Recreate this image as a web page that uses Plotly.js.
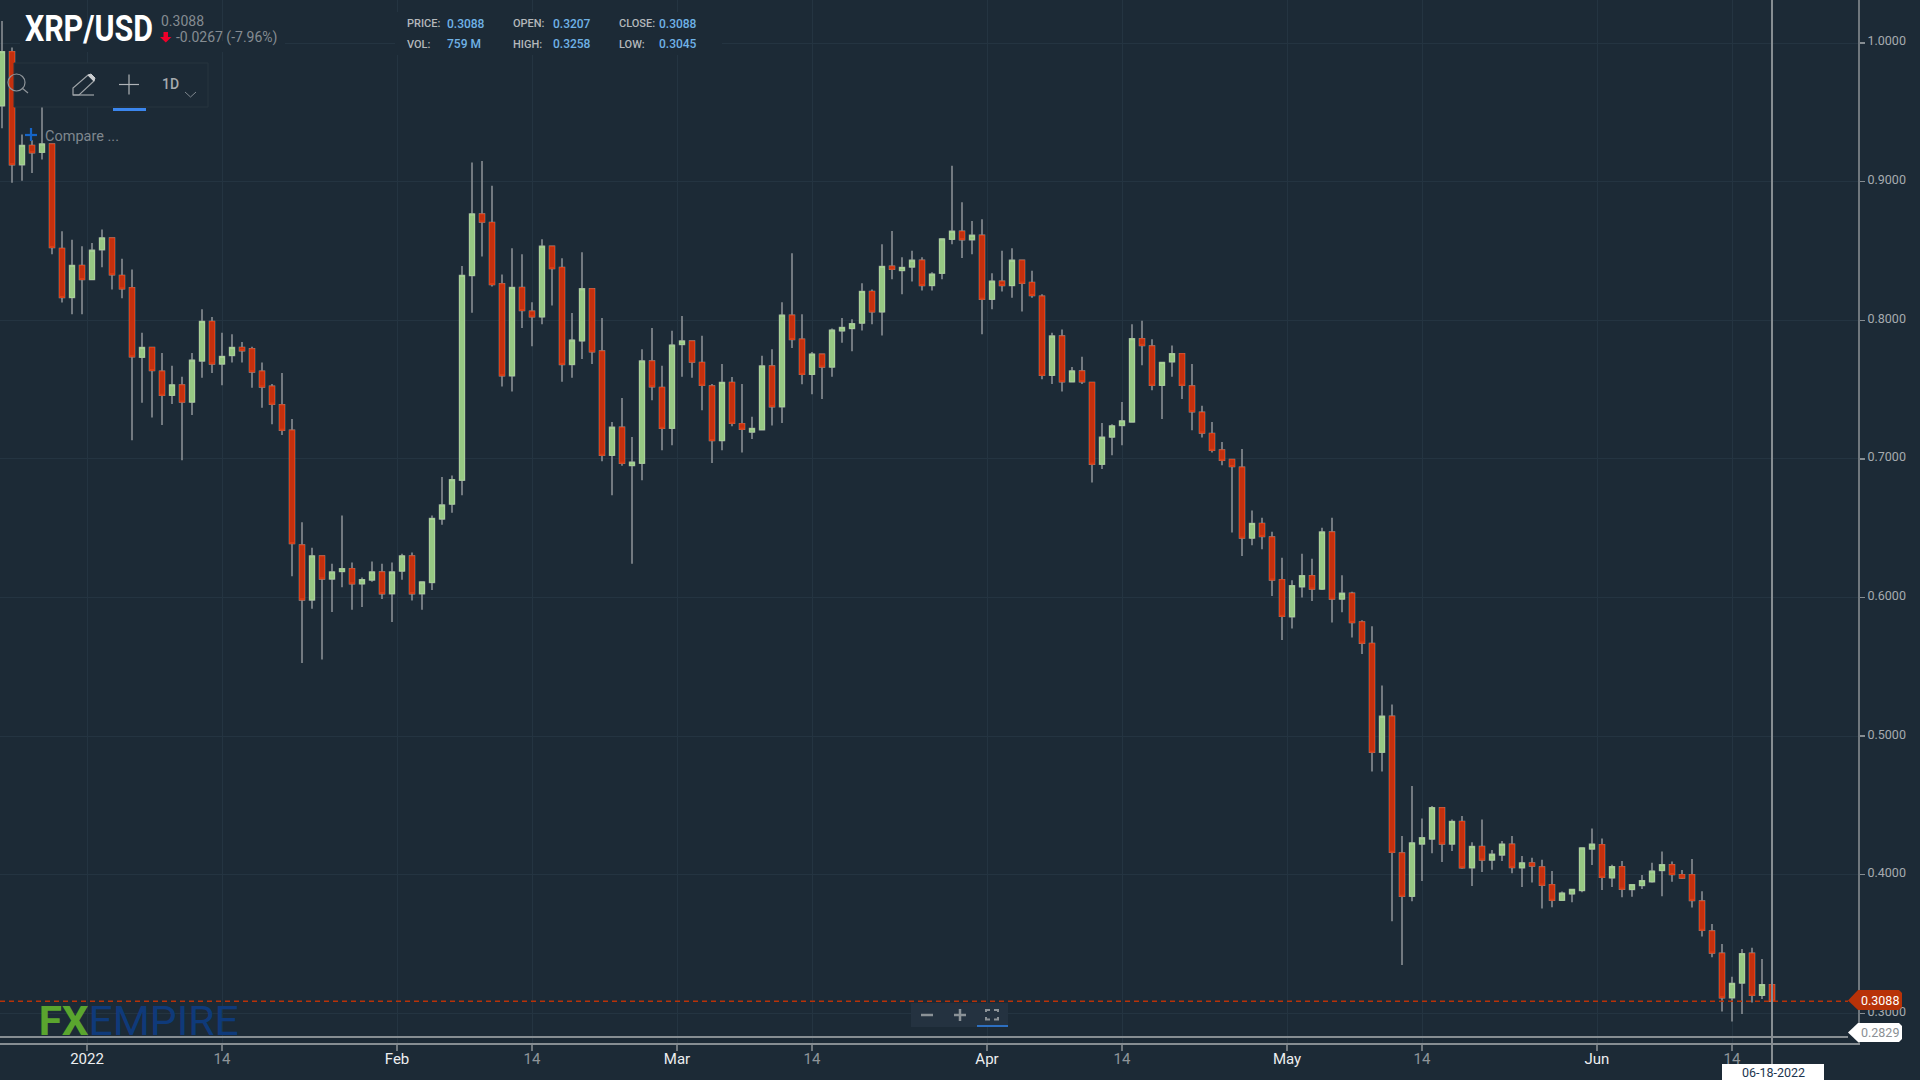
<!DOCTYPE html>
<html>
<head>
<meta charset="utf-8">
<script src="https://cdn.plot.ly/plotly-3.0.1.min.js"></script>
<style>html,body{margin:0;padding:0;background:#1c2a36;overflow:hidden}#chart{width:1920px;height:1080px}</style>
</head>
<body>
<div id="chart"></div>
<script>
const symbol = "XRP/USD";
const lastDate = "06-18-2022";
const priceTicks = [1.0,0.9,0.8,0.7,0.6,0.5,0.4,0.3];
const dateTicks = ["2021-12-31 12:00","2022-01-14","2022-01-31 12:00","2022-02-14","2022-02-28 12:00","2022-03-14","2022-03-31 12:00","2022-04-14","2022-04-30 12:00","2022-05-14","2022-05-31 12:00","2022-06-14"];
const dateLabels = ["2022","14","Feb","14","Mar","14","Apr","14","May","14","Jun","14"];

const dates = [
"2021-12-23","2021-12-24","2021-12-25","2021-12-26","2021-12-27","2021-12-28","2021-12-29","2021-12-30","2021-12-31",
"2022-01-01","2022-01-02","2022-01-03","2022-01-04","2022-01-05","2022-01-06","2022-01-07","2022-01-08","2022-01-09","2022-01-10","2022-01-11","2022-01-12","2022-01-13","2022-01-14","2022-01-15","2022-01-16","2022-01-17","2022-01-18","2022-01-19","2022-01-20","2022-01-21","2022-01-22","2022-01-23","2022-01-24","2022-01-25","2022-01-26","2022-01-27","2022-01-28","2022-01-29","2022-01-30","2022-01-31",
"2022-02-01","2022-02-02","2022-02-03","2022-02-04","2022-02-05","2022-02-06","2022-02-07","2022-02-08","2022-02-09","2022-02-10","2022-02-11","2022-02-12","2022-02-13","2022-02-14","2022-02-15","2022-02-16","2022-02-17","2022-02-18","2022-02-19","2022-02-20","2022-02-21","2022-02-22","2022-02-23","2022-02-24","2022-02-25","2022-02-26","2022-02-27","2022-02-28",
"2022-03-01","2022-03-02","2022-03-03","2022-03-04","2022-03-05","2022-03-06","2022-03-07","2022-03-08","2022-03-09","2022-03-10","2022-03-11","2022-03-12","2022-03-13","2022-03-14","2022-03-15","2022-03-16","2022-03-17","2022-03-18","2022-03-19","2022-03-20","2022-03-21","2022-03-22","2022-03-23","2022-03-24","2022-03-25","2022-03-26","2022-03-27","2022-03-28","2022-03-29","2022-03-30","2022-03-31",
"2022-04-01","2022-04-02","2022-04-03","2022-04-04","2022-04-05","2022-04-06","2022-04-07","2022-04-08","2022-04-09","2022-04-10","2022-04-11","2022-04-12","2022-04-13","2022-04-14","2022-04-15","2022-04-16","2022-04-17","2022-04-18","2022-04-19","2022-04-20","2022-04-21","2022-04-22","2022-04-23","2022-04-24","2022-04-25","2022-04-26","2022-04-27","2022-04-28","2022-04-29","2022-04-30",
"2022-05-01","2022-05-02","2022-05-03","2022-05-04","2022-05-05","2022-05-06","2022-05-07","2022-05-08","2022-05-09","2022-05-10","2022-05-11","2022-05-12","2022-05-13","2022-05-14","2022-05-15","2022-05-16","2022-05-17","2022-05-18","2022-05-19","2022-05-20","2022-05-21","2022-05-22","2022-05-23","2022-05-24","2022-05-25","2022-05-26","2022-05-27","2022-05-28","2022-05-29","2022-05-30","2022-05-31",
"2022-06-01","2022-06-02","2022-06-03","2022-06-04","2022-06-05","2022-06-06","2022-06-07","2022-06-08","2022-06-09","2022-06-10","2022-06-11","2022-06-12","2022-06-13","2022-06-14","2022-06-15","2022-06-16","2022-06-17","2022-06-18"];

const opens = [
.9548,.9938,.9123,.9262,.9212,.9272,.8519,.8165,.8396,.8294,
.8510,.8594,.8324,.8235,.7734,.7804,.7633,.7459,.7534,.7410,
.7707,.7992,.7685,.7747,.7804,.7794,.7633,.7524,.7390,.7207,
.6379,.5983,.6300,.6134,.6188,.6208,.6099,.6127,.6184,.6028,
.6191,.6300,.6028,.6109,.6567,.6674,.6847,.8323,.8767,.8705,
.8263,.7600,.8236,.8066,.8025,.8534,.8381,.7682,.7852,.8227,
.7778,.7026,.7228,.6952,.6969,.7706,.7516,.7221,.7826,.7850,
.7696,.7526,.7132,.7552,.7254,.7194,.7211,.7670,.7377,.8037,
.7864,.7610,.7756,.7663,.7924,.7941,.7980,.8208,.8061,.8390,
.8359,.8385,.8433,.8251,.8340,.8585,.8642,.8582,.8613,.8152,
.8282,.8251,.8433,.8273,.8174,.7603,.7886,.7557,.7634,.7552,
.6962,.7158,.7242,.7267,.7867,.7814,.7531,.7701,.7759,.7526,
.7336,.7183,.7065,.6995,.6940,.6429,.6534,.6436,.6129,.5862,
.6078,.6157,.6061,.6472,.5989,.6030,.5824,.5669,.4884,.5143,
.4157,.3845,.4222,.4258,.4483,.4222,.4384,.4051,.4203,.4106,
.4143,.4220,.4051,.4085,.4056,.3928,.3816,.3862,.3886,.4186,
.4217,.3978,.4058,.3894,.3923,.3950,.4031,.4072,.4000,.4000,
.3810,.3594,.3433,.3113,.3219,.3433,.3130,.3207];

const highs = [
1.016,.9969,.9341,.930,.9558,.9272,.8643,.8581,.8534,.8557,
.8656,.8594,.8445,.8366,.7910,.7804,.7764,.7672,.7593,.7764,
.8079,.8024,.7910,.7900,.7843,.7809,.7695,.7541,.7620,.7288,
.6543,.6359,.6300,.6243,.6592,.6253,.6144,.6260,.6243,.6253,
.6315,.6325,.6117,.6592,.6870,.6880,.8391,.9139,.9149,.8971,
.8330,.8520,.8477,.8131,.8585,.8534,.8448,.8052,.8491,.8232,
.8016,.7266,.7439,.7158,.7792,.7944,.7672,.7924,.8032,.7855,
.7888,.7540,.7684,.7591,.7540,.7305,.7744,.7792,.8131,.8484,
.8044,.7771,.7761,.7941,.8016,.8008,.8268,.8222,.8549,.8645,
.8455,.8501,.8455,.8347,.8587,.9115,.8851,.8717,.8729,.8340,
.8501,.8520,.8433,.8357,.8188,.7910,.7934,.7663,.7737,.7557,
.7259,.7250,.7411,.7972,.7996,.7864,.7696,.7819,.7759,.7684,
.7384,.7267,.7122,.6995,.7072,.6628,.6575,.6474,.6287,.6124,
.6316,.6280,.6503,.6575,.6160,.6042,.5836,.5792,.5365,.5229,
.4280,.4640,.4406,.4495,.4483,.4399,.4423,.4234,.4399,.4179,
.4244,.4280,.4135,.4123,.4109,.4027,.3879,.3899,.4193,.4333,
.4261,.4072,.4099,.3933,.3998,.4087,.4168,.4096,.4034,.4113,
.3880,.3644,.3500,.3264,.3464,.3474,.3392,.3258];

const lows = [
.9385,.8993,.9007,.9063,.9161,.8476,.8128,.8044,.8044,.8294,
.8383,.8222,.8160,.7135,.7405,.7298,.7244,.7397,.6991,.7316,
.7586,.7620,.7531,.7695,.7695,.7514,.7370,.7251,.7172,.6154,
.5527,.5919,.5552,.5896,.6075,.5911,.5931,.6114,.5990,.5824,
.6129,.5978,.5911,.6055,.6525,.6612,.6738,.8054,.8460,.8244,
.7523,.7487,.7944,.7812,.7972,.8107,.7557,.7586,.7720,.7684,
.6983,.6738,.6950,.6244,.6846,.7423,.7062,.7098,.7593,.7586,
.7351,.6971,.7062,.7235,.7046,.7144,.7209,.7242,.7259,.7800,
.7538,.7466,.7432,.7593,.7838,.7776,.7927,.7972,.7891,.8297,
.8188,.8280,.8215,.8215,.8297,.8549,.8450,.8477,.7900,.8080,
.8208,.8162,.8064,.8162,.7574,.7540,.7487,.7552,.7540,.6829,
.6928,.7026,.7098,.7267,.7675,.7495,.7288,.7593,.7432,.7207,
.7154,.7046,.6954,.6469,.6299,.6378,.6349,.6011,.5694,.5776,
.6001,.5975,.6054,.5819,.5893,.5711,.5592,.4744,.4744,.3664,
.3348,.3809,.3954,.4155,.4092,.4171,.4043,.3918,.4019,.4036,
.4099,.4010,.3911,.3944,.3756,.3766,.3814,.3802,.3874,.4070,
.3889,.3911,.3838,.3841,.3897,.3942,.3844,.3950,.3969,.3764,
.3555,.3404,.3014,.2942,.2995,.3079,.3103,.3045];

const closes = [
.9938,.9123,.9262,.9209,.9272,.8526,.8165,.8396,.8294,.8505,
.8594,.8329,.8227,.7737,.7804,.7638,.7459,.7534,.7410,.7712,
.7992,.7685,.7739,.7804,.7781,.7628,.7519,.7395,.7207,.6389,
.5983,.6300,.6134,.6184,.6208,.6099,.6129,.6184,.6028,.6184,
.6300,.6028,.6112,.6570,.6667,.6850,.8324,.8767,.8709,.8258,
.7600,.8236,.8071,.8025,.8534,.8373,.7682,.7857,.8227,.7773,
.7026,.7228,.6969,.6976,.7706,.7521,.7221,.7821,.7850,.7699,
.7531,.7132,.7552,.7257,.7214,.7219,.7670,.7377,.8037,.7862,
.7610,.7756,.7663,.7929,.7948,.7975,.8208,.8061,.8388,.8369,
.8381,.8433,.8251,.8333,.8587,.8642,.8582,.8613,.8152,.8282,
.8251,.8433,.8268,.8179,.7603,.7886,.7557,.7634,.7557,.6962,
.7156,.7238,.7274,.7867,.7819,.7531,.7696,.7759,.7531,.7341,
.7187,.7062,.6990,.6945,.6429,.6534,.6441,.6126,.5864,.6085,
.6157,.6061,.6472,.5989,.6030,.5819,.5671,.4884,.5143,.4162,
.3845,.4229,.4266,.4483,.4222,.4384,.4051,.4203,.4106,.4147,
.4220,.4053,.4085,.4063,.3925,.3816,.3867,.3894,.4193,.4220,
.3981,.4058,.3896,.3928,.3957,.4026,.4072,.4002,.3976,.3815,
.3599,.3435,.3113,.3216,.3430,.3130,.3207,.3088];

const lastPrice = 0.3088, periodLow = 0.2829;

const BG="#1c2a36", GRID="#243441", AXIS="#868d92", WICK="#8e9499";
const GREEN="#97c884", GREENL="#a9d298", RED="#c4300e", REDL="#dc4118", BLUE="#6fb2e6";
const PW=1858, PH=1043;
const fx=x=>x/PW, fy=y=>1-y/PH;
const shapes=[], notes=[];
function rect(x0,y0,x1,y1,fill,line,lw){shapes.push({type:"rect",xref:"paper",yref:"paper",x0:fx(x0),x1:fx(x1),y0:fy(y0),y1:fy(y1),fillcolor:fill,line:{color:line||"rgba(0,0,0,0)",width:line?(lw||1):0},layer:"above"});}
function poly(pts,close,fill,line,lw){
  const d=pts.map((p,i)=>(i?"L":"M")+fx(p[0])+" "+fy(p[1])).join(" ")+(close?" Z":"");
  shapes.push({type:"path",xref:"paper",yref:"paper",path:d,fillcolor:fill||"rgba(0,0,0,0)",line:{color:line||"rgba(0,0,0,0)",width:line?(lw||1):0},layer:"above"});
}
function text(x,y,s,size,color,anchor,extra){
  notes.push(Object.assign({xref:"paper",yref:"paper",x:fx(x),y:fy(y),text:s,showarrow:false,xanchor:anchor||"left",yanchor:"middle",borderpad:0,borderwidth:0,
    font:{family:"Roboto",size:size,color:color}},extra||{}));
}

/* price guides */
shapes.push({type:"line",xref:"paper",yref:"y",x0:0,x1:fx(1848),y0:periodLow,y1:periodLow,line:{color:AXIS,width:2},layer:"above"});
shapes.push({type:"line",xref:"paper",yref:"y",x0:0,x1:fx(1848),y0:lastPrice,y1:lastPrice,line:{color:"#b83208",width:1.5,dash:"5px,4px"},layer:"above"});
shapes.push({type:"line",xref:"x",yref:"paper",x0:dates[dates.length-1],x1:dates[dates.length-1],y0:fy(1064),y1:1,line:{color:AXIS,width:2},layer:"above"});

/* header masks */
rect(20,41,285,52,BG);
rect(395,12,722,55,BG);

/* header text */
text(89,29,symbol,36,"#ffffff","center",{font:{family:"Roboto",size:36,color:"#ffffff",weight:700}});
text(161,21,"0.3088",14,"#858c92");
text(176,38,"-0.0267 (-7.96%)",14,"#858c92");
poly([[163.5,32],[168,32],[168,37],[171.5,37],[165.8,42.5],[160,37],[163.5,37]],true,"#f0002a");

const infoCols=[[406.5,447,"PRICE:","0.3088","VOL:","759 M"],[513,553,"OPEN:","0.3207","HIGH:","0.3258"],[619,659,"CLOSE:","0.3088","LOW:","0.3045"]];
const labelFont={family:"Roboto",size:11,color:"#b4b8bb",weight:500}, valueFont={family:"Roboto",size:12,color:BLUE,weight:500};
infoCols.forEach(c=>{
  text(c[0],23.5,c[2],11,"#b4b8bb","left",{font:labelFont});
  text(c[1],23.5,c[3],12,BLUE,"left",{font:valueFont});
  text(c[0],44.5,c[4],11,"#b4b8bb","left",{font:labelFont});
  text(c[1],44.5,c[5],12,BLUE,"left",{font:valueFont});
});

/* toolbar */
rect(14,63,208,107,BG,"#27353f",1);
shapes.push({type:"circle",xref:"paper",yref:"paper",x0:fx(8),x1:fx(25),y0:fy(74),y1:fy(91),fillcolor:"rgba(0,0,0,0)",line:{color:"#8f959a",width:1.2},layer:"above"});
poly([[22,88],[28,93]],false,null,"#8f959a",1.2);
poly([[73,95],[73,88],[88,75],[94,81],[79,95]],true,null,"#a0a5a9",1.2);
poly([[88,75],[91,74],[95,78],[94,81]],true,"#c9cccf","#c9cccf",1);
poly([[73,95],[94,95]],false,null,"#a0a5a9",1.2);
poly([[119,84.5],[139,84.5]],false,null,"#b0b4b8",1.2);
poly([[129,74.5],[129,94.5]],false,null,"#b0b4b8",1.2);
rect(113,108,146,111,"#3b86ee");
text(162,84,"1D",14,"#a6abaf","left",{font:{family:"Roboto",size:14,color:"#a6abaf",weight:500}});
poly([[185,92],[190.5,97],[196,92]],false,null,"#7f878e",1);
poly([[25,135],[37,135]],false,null,"#1565c8",2.2);
poly([[31,128],[31,141]],false,null,"#1565c8",2.2);
text(45,137,"Compare ...",14.5,"#7f878e");

/* logo */
text(63,1021,"FX",40,"#5aa52e","center",{font:{family:"Roboto",size:40,color:"#5aa52e",weight:700}});
text(163,1021,"EMPIRE",40,"#0f3a7a","center");

/* zoom controls */
rect(911,1003,1008,1027,"#243240");
poly([[921,1015],[933,1015]],false,null,"#8b9297",2.5);
poly([[954,1015],[966,1015]],false,null,"#8b9297",2.5);
poly([[960,1009],[960,1021]],false,null,"#8b9297",2.5);
poly([[986,1012],[986,1010],[990,1010]],false,null,"#8b9297",2);
poly([[994,1010],[998,1010],[998,1012]],false,null,"#8b9297",2);
poly([[986,1017],[986,1019.5],[990,1019.5]],false,null,"#8b9297",2);
poly([[994,1019.5],[998,1019.5],[998,1017]],false,null,"#8b9297",2);
rect(977,1025,1008,1027,"#2d6fc0");

/* price tags */
poly([[1848,1000.5],[1858,990],[1899,990],[1902,993],[1902,1007],[1899,1010],[1858,1010]],true,"#b83208");
text(1880,1000.5,lastPrice.toFixed(4),12.5,"#ffffff","center");
poly([[1848,1032.5],[1858,1023],[1899,1023],[1902,1026],[1902,1039],[1899,1042],[1858,1042]],true,"#ffffff");
text(1880,1032.5,periodLow.toFixed(4),12.5,"#8a8f94","center");
rect(1722,1064,1824,1080,"#ffffff");
text(1773,1072,lastDate,12.5,"#1c3550","center");

const baseTrace={type:"candlestick",x:dates,open:opens,close:closes,hoverinfo:"skip",showlegend:false};
const wicks=Object.assign({},baseTrace,{high:highs,low:lows,whiskerwidth:0,
  line:{width:1.5},
  increasing:{line:{color:WICK,width:1.5},fillcolor:"rgba(0,0,0,0)"},
  decreasing:{line:{color:WICK,width:1.5},fillcolor:"rgba(0,0,0,0)"}});
const bodies=Object.assign({},baseTrace,{
  high:opens.map((o,i)=>Math.max(o,closes[i])),
  low:opens.map((o,i)=>Math.min(o,closes[i])),
  whiskerwidth:0,
  increasing:{line:{color:GREENL,width:1},fillcolor:GREEN},
  decreasing:{line:{color:REDL,width:1},fillcolor:RED}});

const layout={
  width:1920,height:1080,autosize:false,
  paper_bgcolor:BG,plot_bgcolor:BG,showlegend:false,
  margin:{l:0,r:62,t:0,b:37,pad:0},
  boxmode:"overlay",boxgap:0.5,boxgroupgap:0,
  font:{family:"Roboto",color:"#b0b4b8"},
  xaxis:{type:"date",range:["2021-12-22 19:12","2022-06-26 14:24"],rangeslider:{visible:false},
    tickmode:"array",tickvals:dateTicks,
    ticktext:dateLabels.map(l=>l==="14"?l:'<span style="color:#eceef0">'+l+'</span>'),
    tickangle:0,tickfont:{family:"Roboto",size:15,color:"#8f959a"},
    ticks:"outside",ticklen:6,tickwidth:2,tickcolor:"#6f777d",ticklabelstandoff:-5,
    showgrid:true,gridcolor:GRID,gridwidth:1,zeroline:false,
    showline:true,linecolor:AXIS,linewidth:2,fixedrange:true},
  yaxis:{side:"right",range:[0.2786,1.0311],tickmode:"array",tickvals:priceTicks,ticktext:priceTicks.map(v=>v.toFixed(4)),
    tickfont:{family:"Roboto",size:12.5,color:"#a6abaf"},
    ticks:"outside",ticklen:5,tickwidth:1.5,tickcolor:"#868d92",ticklabelshift:-2,
    showgrid:true,gridcolor:GRID,gridwidth:1,zeroline:false,
    showline:true,linecolor:"#6f777d",linewidth:2,fixedrange:true},
  shapes:shapes,annotations:notes
};
const fitText={"XRP/USD":128,"FX":50,"EMPIRE":150};
Plotly.newPlot("chart",[wicks,bodies],layout,{displayModeBar:false,staticPlot:true}).then(()=>{
  document.querySelectorAll(".annotation-text").forEach(t=>{
    const w=fitText[t.textContent];
    if(w){t.setAttribute("textLength",w);t.setAttribute("lengthAdjust","spacingAndGlyphs");}
  });
});
</script>
</body>
</html>
